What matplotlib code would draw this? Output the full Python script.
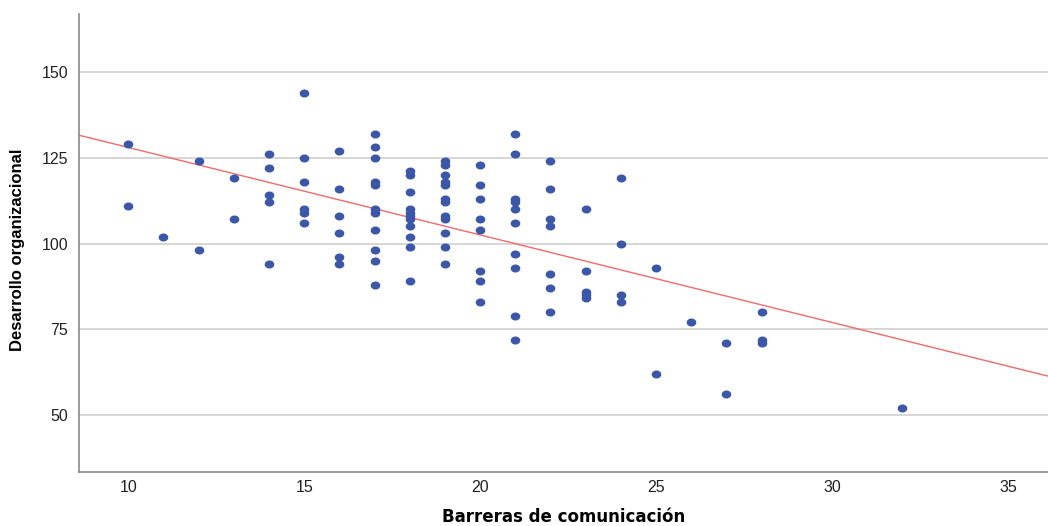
import matplotlib
matplotlib.use('Agg')
import matplotlib.pyplot as plt
from matplotlib.path import Path
import numpy as np

plt.rcParams['font.family'] = ['Liberation Sans', 'DejaVu Sans']

# barreras de comunicación (x) y desarrollo organizacional (y)
barreras = ([10] * 2 + [11] + [12] * 2 + [13] * 2 + [14] * 5 + [15] * 6 + [16] * 6
            + [17] * 11 + [18] * 11 + [19] * 12 + [20] * 8 + [21] * 10 + [22] * 7
            + [23] * 5 + [24] * 4 + [25] * 2 + [26] + [27] * 2 + [28] * 3 + [32])
desarrollo = [129, 111,
              102,
              124, 98,
              119, 107,
              126, 122, 114, 112, 94,
              144, 125, 118, 110, 109, 106,
              127, 116, 108, 103, 96, 94,
              132, 128, 125, 118, 117, 110, 109, 104, 98, 95, 88,
              121, 120, 115, 110, 109, 108, 107, 105, 102, 99, 89,
              124, 123, 120, 118, 117, 113, 112, 108, 107, 103, 99, 94,
              123, 117, 113, 107, 104, 92, 89, 83,
              132, 126, 113, 112, 110, 106, 97, 93, 79, 72,
              124, 116, 107, 105, 91, 87, 80,
              110, 92, 86, 85, 84,
              119, 100, 85, 83,
              93, 62,
              77,
              71, 56,
              80, 72, 71,
              52]
# recta de ajuste
intercepto = 153.5
pendiente = -2.55
x_ticks = [10, 15, 20, 25, 30, 35]
y_ticks = [50, 75, 100, 125, 150]

x = np.array(barreras)
y = np.array(desarrollo)

# marcador elíptico, un poco más ancho que alto
t = np.linspace(0, 2 * np.pi, 40)
elipse = Path(np.column_stack([np.cos(t) * 1.2, np.sin(t)]))

fig = plt.figure(figsize=(10.48, 5.26), dpi=100)
ax = fig.add_axes([0.0754, 0.1027, 0.9246, 0.8707])

ax.set_xlim(8.6, 36.14)
ax.set_ylim(33.4, 166.9)
ax.set_yticks(y_ticks)
ax.set_xticks(x_ticks)
ax.grid(axis='y', color='#cfcfcf', linewidth=1.2)
ax.set_axisbelow(True)

ax.scatter(x, y, s=48, marker=elipse, color='#3c56a8', zorder=3, linewidths=0)
xs = np.array(ax.get_xlim())
ax.plot(xs, intercepto + pendiente * xs, color='#f26a6a', linewidth=1, zorder=2)

for lado in ['top', 'right']:
    ax.spines[lado].set_visible(False)
for lado in ['left', 'bottom']:
    ax.spines[lado].set_color('#8a8a8a')
    ax.spines[lado].set_linewidth(1.2)
ax.tick_params(length=0, labelsize=11.5, colors='#222222', pad=8)
ax.tick_params(axis='x', pad=6)

fig.text(0.5375, 0.017, 'Barreras de comunicación', fontsize=12, fontweight='bold',
         family=['DejaVu Sans'], ha='center', va='center')
fig.text(0.017, 0.525, 'Desarrollo organizacional', fontsize=12, fontweight='bold',
         rotation=90, ha='center', va='center')

fig.savefig('out.png', dpi=100)
